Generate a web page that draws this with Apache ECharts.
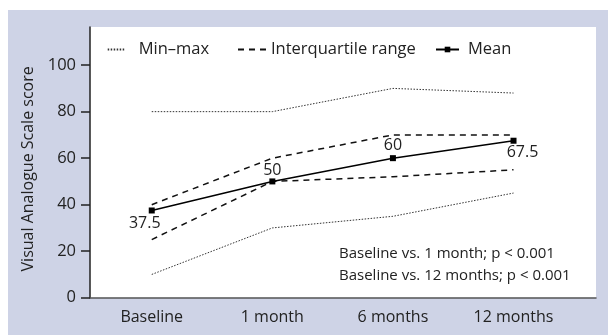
<!DOCTYPE html>
<html>
<head>
<meta charset="utf-8">
<script src="https://cdn.jsdelivr.net/npm/echarts@6/dist/echarts.min.js"></script>
<style>
  html, body { margin: 0; padding: 0; background: #ffffff; }
  #chart { position: absolute; left: 8px; top: 10px; width: 600px; height: 325px; }
</style>
</head>
<body>
<div id="chart"></div>
<script>
// ---- data ----
const categories = ['Baseline', '1 month', '6 months', '12 months'];
const minValues = [10, 30, 35, 45];
const maxValues = [80, 80, 90, 88];
const q1Values = [25, 50, 52, 55];
const q3Values = [40, 60, 70, 70];
const meanValues = [37.5, 50, 60, 67.5];
const yTicks = [0, 20, 40, 60, 80, 100];
const annotation = ['Baseline vs. 1 month; p < 0.001', 'Baseline vs. 12 months; p < 0.001'];

const FONT = 'Open Sans';
const TXT = '#222';

function pairs(arr) { return arr.map((v, i) => [i, v]); }

const meanLabelCfg = [
  { position: 'bottom', distance: 2, offset: [-7, 0] },
  { position: 'top', distance: 0, offset: [0, 0] },
  { position: 'top', distance: 2, offset: [0, 0] },
  { position: 'bottom', distance: 1, offset: [9, 0] }
];

const chart = echarts.init(document.getElementById('chart'), null, { renderer: 'canvas' });

const dotted = { color: '#333', width: 1, type: [1.5, 1.5] };
const dashed = { color: '#111', width: 1.5, type: [6, 5] };
const noSym = { color: 'transparent', borderColor: 'transparent', borderWidth: 0 };

chart.setOption({
  backgroundColor: '#ced3e6',
  animation: false,
  textStyle: { fontFamily: FONT },
  title: {
    text: annotation.join('\n'),
    left: 331, top: 233, padding: 0,
    textStyle: { fontFamily: FONT, fontSize: 15, fontWeight: 'normal', color: TXT, lineHeight: 22 }
  },
  legend: [
    { data: ['Min–max'], left: 98.7, top: 31, itemWidth: 18, itemHeight: 10, padding: 0,
      itemStyle: noSym,
      textStyle: { fontFamily: FONT, fontSize: 16.5, color: TXT, padding: [0, 0, 0, 8] } },
    { data: ['Interquartile range'], left: 229, top: 31, itemWidth: 28, itemHeight: 10, padding: 0,
      itemStyle: noSym,
      textStyle: { fontFamily: FONT, fontSize: 16.5, color: TXT, padding: [0, 0, 0, 0] } },
    { data: ['Mean'], left: 427, top: 31, itemWidth: 23, itemHeight: 7, padding: 0,
      textStyle: { fontFamily: FONT, fontSize: 16.5, color: TXT, padding: [0, 0, 0, 4] } }
  ],
  grid: {
    left: 82, right: 12, top: 17, bottom: 37.3,
    show: true, backgroundColor: '#ffffff', borderWidth: 0
  },
  xAxis: {
    type: 'value', min: -0.512, max: 3.684,
    axisLine: { show: true, onZero: false, lineStyle: { color: '#555', width: 1.5 } },
    axisTick: { show: false },
    splitLine: { show: false },
    axisLabel: {
      customValues: [0, 1, 2, 3],
      formatter: v => categories[Math.round(v)] || '',
      fontFamily: FONT, fontSize: 16, color: TXT, margin: 12
    }
  },
  yAxis: {
    type: 'value', min: 0, max: 116.4,
    name: 'Visual Analogue Scale score', nameLocation: 'middle', nameGap: 50,
    nameTextStyle: { fontFamily: FONT, fontSize: 16, color: TXT, padding: [0, 13, 0, 0] },
    axisLine: { show: true, onZero: false, lineStyle: { color: '#222', width: 1.5 } },
    axisTick: { show: true, customValues: yTicks, length: 9, lineStyle: { color: '#222', width: 1.5 } },
    splitLine: { show: false },
    axisLabel: { customValues: yTicks, fontFamily: FONT, fontSize: 16.5, color: TXT, margin: 14 }
  },
  series: [
    { name: 'Min–max', type: 'line', data: pairs(maxValues), symbol: 'none', lineStyle: dotted, itemStyle: { color: '#333' } },
    { name: 'Min–max', type: 'line', data: pairs(minValues), symbol: 'none', lineStyle: dotted, itemStyle: { color: '#333' } },
    { name: 'Interquartile range', type: 'line', data: pairs(q3Values), symbol: 'none', lineStyle: dashed, itemStyle: { color: '#111' } },
    { name: 'Interquartile range', type: 'line', data: pairs(q1Values), symbol: 'none', lineStyle: dashed, itemStyle: { color: '#111' } },
    {
      name: 'Mean', type: 'line', symbol: 'rect', symbolSize: 6, z: 5,
      lineStyle: { color: '#000', width: 1.5 }, itemStyle: { color: '#000' },
      data: meanValues.map((v, i) => ({
        value: [i, v],
        label: Object.assign({ show: true, formatter: String(v), fontFamily: FONT, fontSize: 16, color: TXT }, meanLabelCfg[i])
      }))
    }
  ]
});
</script>
</body>
</html>
